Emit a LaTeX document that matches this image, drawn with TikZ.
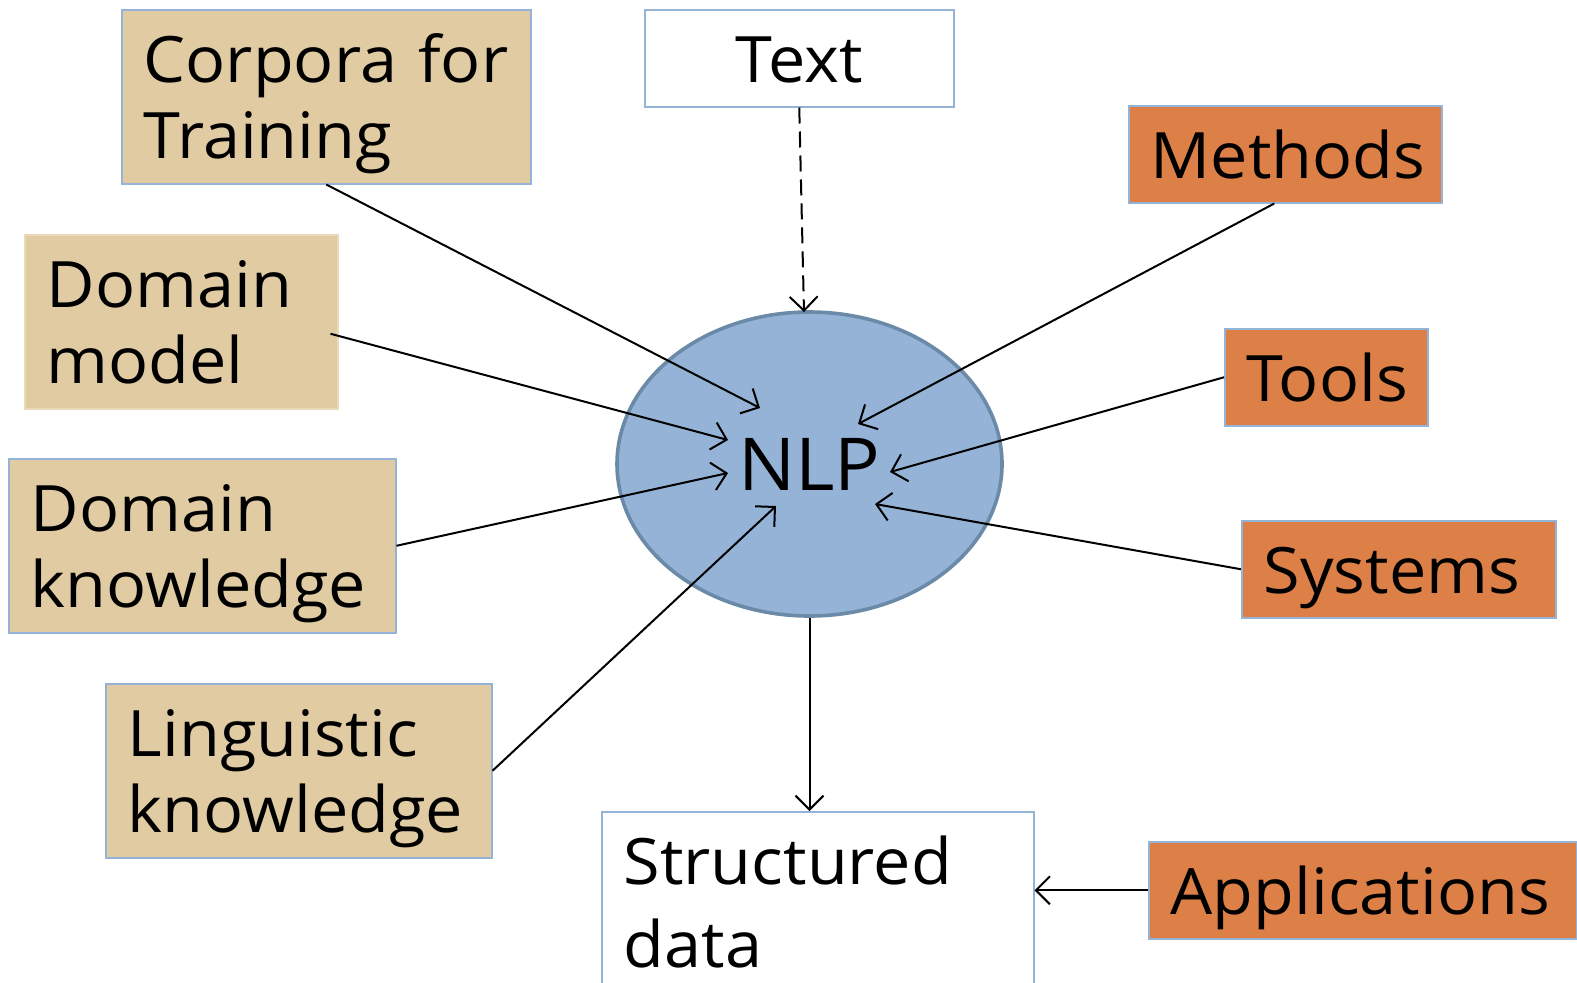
\documentclass[tikz,border=0pt]{standalone}
\usepackage{fontspec}
\setmainfont{Open Sans}[FakeStretch=1.04]
\usetikzlibrary{arrows.meta,positioning,shapes.geometric}
\definecolor{NLPBlue}{HTML}{95B3D7}
\definecolor{NLPEdge}{HTML}{6A8AA8}
\definecolor{BoxEdge}{HTML}{95B3D7}
\definecolor{ResTan}{HTML}{E0CBA3}
\definecolor{ResTanEdge}{HTML}{EADAB9}
\definecolor{ResOrange}{HTML}{DD8047}

\begin{document}
\begin{tikzpicture}[
  x=0.5pt,y=-0.5pt,
  box/.style={draw=BoxEdge,line width=0.75pt,anchor=north west,inner xsep=11pt,inner ysep=0pt,
              align=left,font=\fontsize{32pt}{38pt}\selectfont,text height=36.5pt,text depth=12pt},
  twoline/.style={text depth=50.5pt},
  resource/.style={box,twoline,fill=ResTan},
  tool/.style={box,fill=ResOrange},
  arrow/.style={-{Straight Barb[length=7pt,width=14pt]},line width=1pt}
]
  \useasboundingbox (0,0) rectangle (1577,982);

  % centre
  \node[ellipse,draw=NLPEdge,line width=1.8pt,fill=NLPBlue,minimum width=192.5pt,minimum height=152pt,
        inner sep=0pt,font=\fontsize{36.5pt}{40pt}\selectfont] (nlp) at (809.5,464) {NLP};

  % input and output
  \node[box,align=center,fill=white,text width=132.5pt] (text) at (644,9) {Text};
  \node[box,twoline,fill=white,text width=194pt,text depth=100pt,
        font=\fontsize{32pt}{41.5pt}\selectfont] (sdata) at (601,811) {Structured\\data};

  % knowledge resources
  \node[resource,text width=182.5pt] (corpora) at (121,9) {Corpora for\\Training};
  \node[resource,draw=ResTanEdge,text width=134.5pt] (dmodel) at (24,234) {Domain\\model};
  \node[resource,text width=171.5pt] (dknow) at (8,458) {Domain\\knowledge};
  \node[resource,text width=171pt] (lknow) at (105,683) {Linguistic\\knowledge};

  % tools side
  \node[tool,text width=134.5pt] (methods) at (1128,105) {Methods};
  \node[tool,text width=79.5pt] (tools) at (1224,328) {Tools};
  \node[tool,text width=135pt] (systems) at (1241,520) {Systems};
  \node[tool,text width=192pt] (apps) at (1148,841) {Applications};

  % arrow ends inside the ellipse
  \coordinate (inCorpora) at (760,408);
  \coordinate (inDModel) at (728,440);
  \coordinate (inDKnow) at (728,473);
  \coordinate (inLKnow) at (776,506);
  \coordinate (inMethods) at (858,424);
  \coordinate (inTools) at (890,472);
  \coordinate (inSystems) at (875,504);
  \coordinate (inText) at (804,312);

  \draw[arrow,dash pattern=on 8pt off 4pt] (text.south) -- (inText);
  \draw[arrow] (corpora.south) -- (inCorpora);
  \draw[arrow] ([shift={(-8,12)}]dmodel.east) -- (inDModel);
  \draw[arrow] (dknow.east) -- (inDKnow);
  \draw[arrow] (lknow.east) -- (inLKnow);
  \draw[arrow] ([shift={(-11,0)}]methods.south) -- (inMethods);
  \draw[arrow] (tools.west) -- (inTools);
  \draw[arrow] (systems.west) -- (inSystems);
  \draw[arrow] (nlp.south) -- (nlp.south |- sdata.north);
  \draw[arrow] (apps.west) -- (apps.west -| sdata.east);
\end{tikzpicture}
\end{document}
